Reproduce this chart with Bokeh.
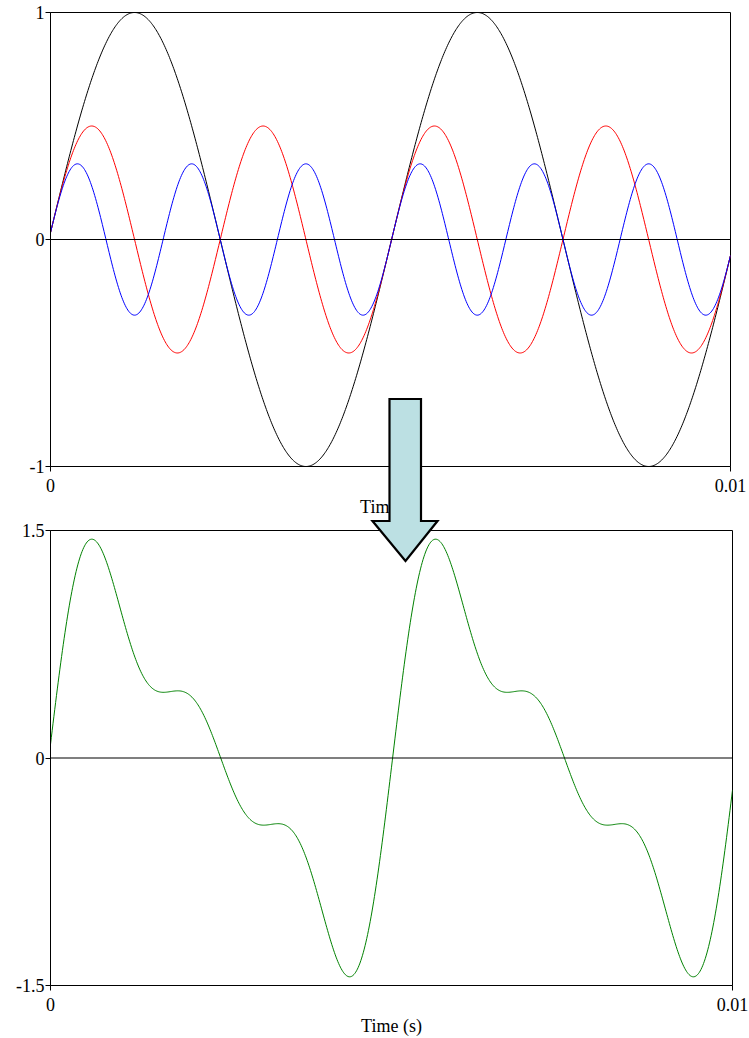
import numpy as np
from bokeh.plotting import figure
from bokeh.models import Range1d, FixedTicker, Span, Div
from bokeh.layouts import column
from bokeh.embed import file_html
from bokeh.resources import INLINE

# ---- values ----
# harmonic components seen in the top panel: (colour, multiple of fundamental, amplitude)
component_names = ["fundamental", "2nd harmonic", "3rd harmonic"]
component_colors = ["#000000", "#ff0000", "#0000ff"]
component_multiples = [1, 2, 3]
component_amplitudes = [1.0, 0.5, 1.0 / 3.0]
fundamental_hz = 198.4      # two cycles (slightly less) across 0 .. 0.01 s
start_phase = 0.03          # first sample sits just after zero
sum_color = "#008000"

x_ticks = [0, 0.01]
x_tick_labels = {0: "0", 0.01: "0.01"}
top_y_ticks = [-1, 0, 1]
top_y_labels = {-1: "-1", 0: "0", 1: "1"}
bot_y_ticks = [-1.5, 0, 1.5]
bot_y_labels = {-1.5: "-1.5", 0: "0", 1.5: "1.5"}
x_label = "Time (s)"

t = np.linspace(0, 0.01, 801)
waves = [a * np.sin(m * (start_phase + 2 * np.pi * fundamental_hz * t))
         for m, a in zip(component_multiples, component_amplitudes)]
total = waves[0] + waves[1] + waves[2]

FONT = "Liberation Serif"


def style(p, yticks, ylabels):
    p.xgrid.visible = False
    p.ygrid.visible = False
    p.outline_line_color = "black"
    p.outline_line_width = 1
    p.background_fill_color = "white"
    p.border_fill_color = "white"
    for ax in (p.xaxis[0], p.yaxis[0]):
        ax.axis_line_color = "black"
        ax.major_tick_line_color = "black"
        ax.minor_tick_line_color = None
        ax.major_tick_in = 0
        ax.major_tick_out = 5
        ax.major_label_text_font = FONT
        ax.major_label_text_font_size = "18px"
        ax.major_label_text_color = "black"
        ax.axis_label_text_font = FONT
        ax.axis_label_text_font_size = "18px"
        ax.axis_label_text_font_style = "normal"
        ax.axis_label_text_color = "black"
    p.xaxis.ticker = FixedTicker(ticks=x_ticks)
    p.xaxis.major_label_overrides = x_tick_labels
    p.xaxis.major_label_standoff = 7
    p.xaxis.axis_label_standoff = 2
    p.xaxis.axis_label = x_label
    p.yaxis.ticker = FixedTicker(ticks=yticks)
    p.yaxis.major_label_overrides = ylabels
    p.yaxis.major_label_standoff = 1
    p.add_layout(Span(location=0, dimension="width", line_color="black", line_width=1.2))


# top panel
p1 = figure(frame_width=680, frame_height=454, min_border_left=48, min_border_right=21,
            min_border_top=12, min_border_bottom=54,
            x_range=Range1d(0, 0.01), y_range=Range1d(-1, 1),
            output_backend="svg", toolbar_location=None)
style(p1, top_y_ticks, top_y_labels)
for w, c in zip(waves, component_colors):
    p1.line(t, w, line_color=c, line_width=1)

# bottom panel
p2 = figure(frame_width=682, frame_height=455, min_border_left=50, min_border_right=17,
            min_border_top=10, min_border_bottom=53,
            x_range=Range1d(0, 0.01), y_range=Range1d(-1.5, 1.5),
            output_backend="svg", toolbar_location=None)
style(p2, bot_y_ticks, bot_y_labels)
p2.line(t, total, line_color=sum_color, line_width=1)

# decorative block arrow laid over both panels (page pixels)
ARROW_LEFT, ARROW_TOP = 362, 390
arrow_pts = [(389.5, 399), (421, 399), (421, 521), (437.5, 521), (405.5, 561),
             (372.5, 521), (389.5, 521)]
pts = " ".join(f"{x - ARROW_LEFT},{y - ARROW_TOP}" for x, y in arrow_pts)
arrow_svg = (f'<svg xmlns="http://www.w3.org/2000/svg" width="90" height="180" '
             f'style="display:block;overflow:visible">'
             f'<polygon points="{pts}" fill="#bce0e3" stroke="black" '
             f'stroke-width="2.2" stroke-linejoin="miter"/></svg>')
arrow = Div(text=arrow_svg, width=90, height=180,
            styles={"position": "absolute", "left": f"{ARROW_LEFT}px",
                    "top": f"{ARROW_TOP}px", "z-index": "10", "margin": "0",
                    "padding": "0"})

layout = column(p1, p2, arrow, spacing=0)
open("out.html", "w").write(file_html(layout, INLINE))
